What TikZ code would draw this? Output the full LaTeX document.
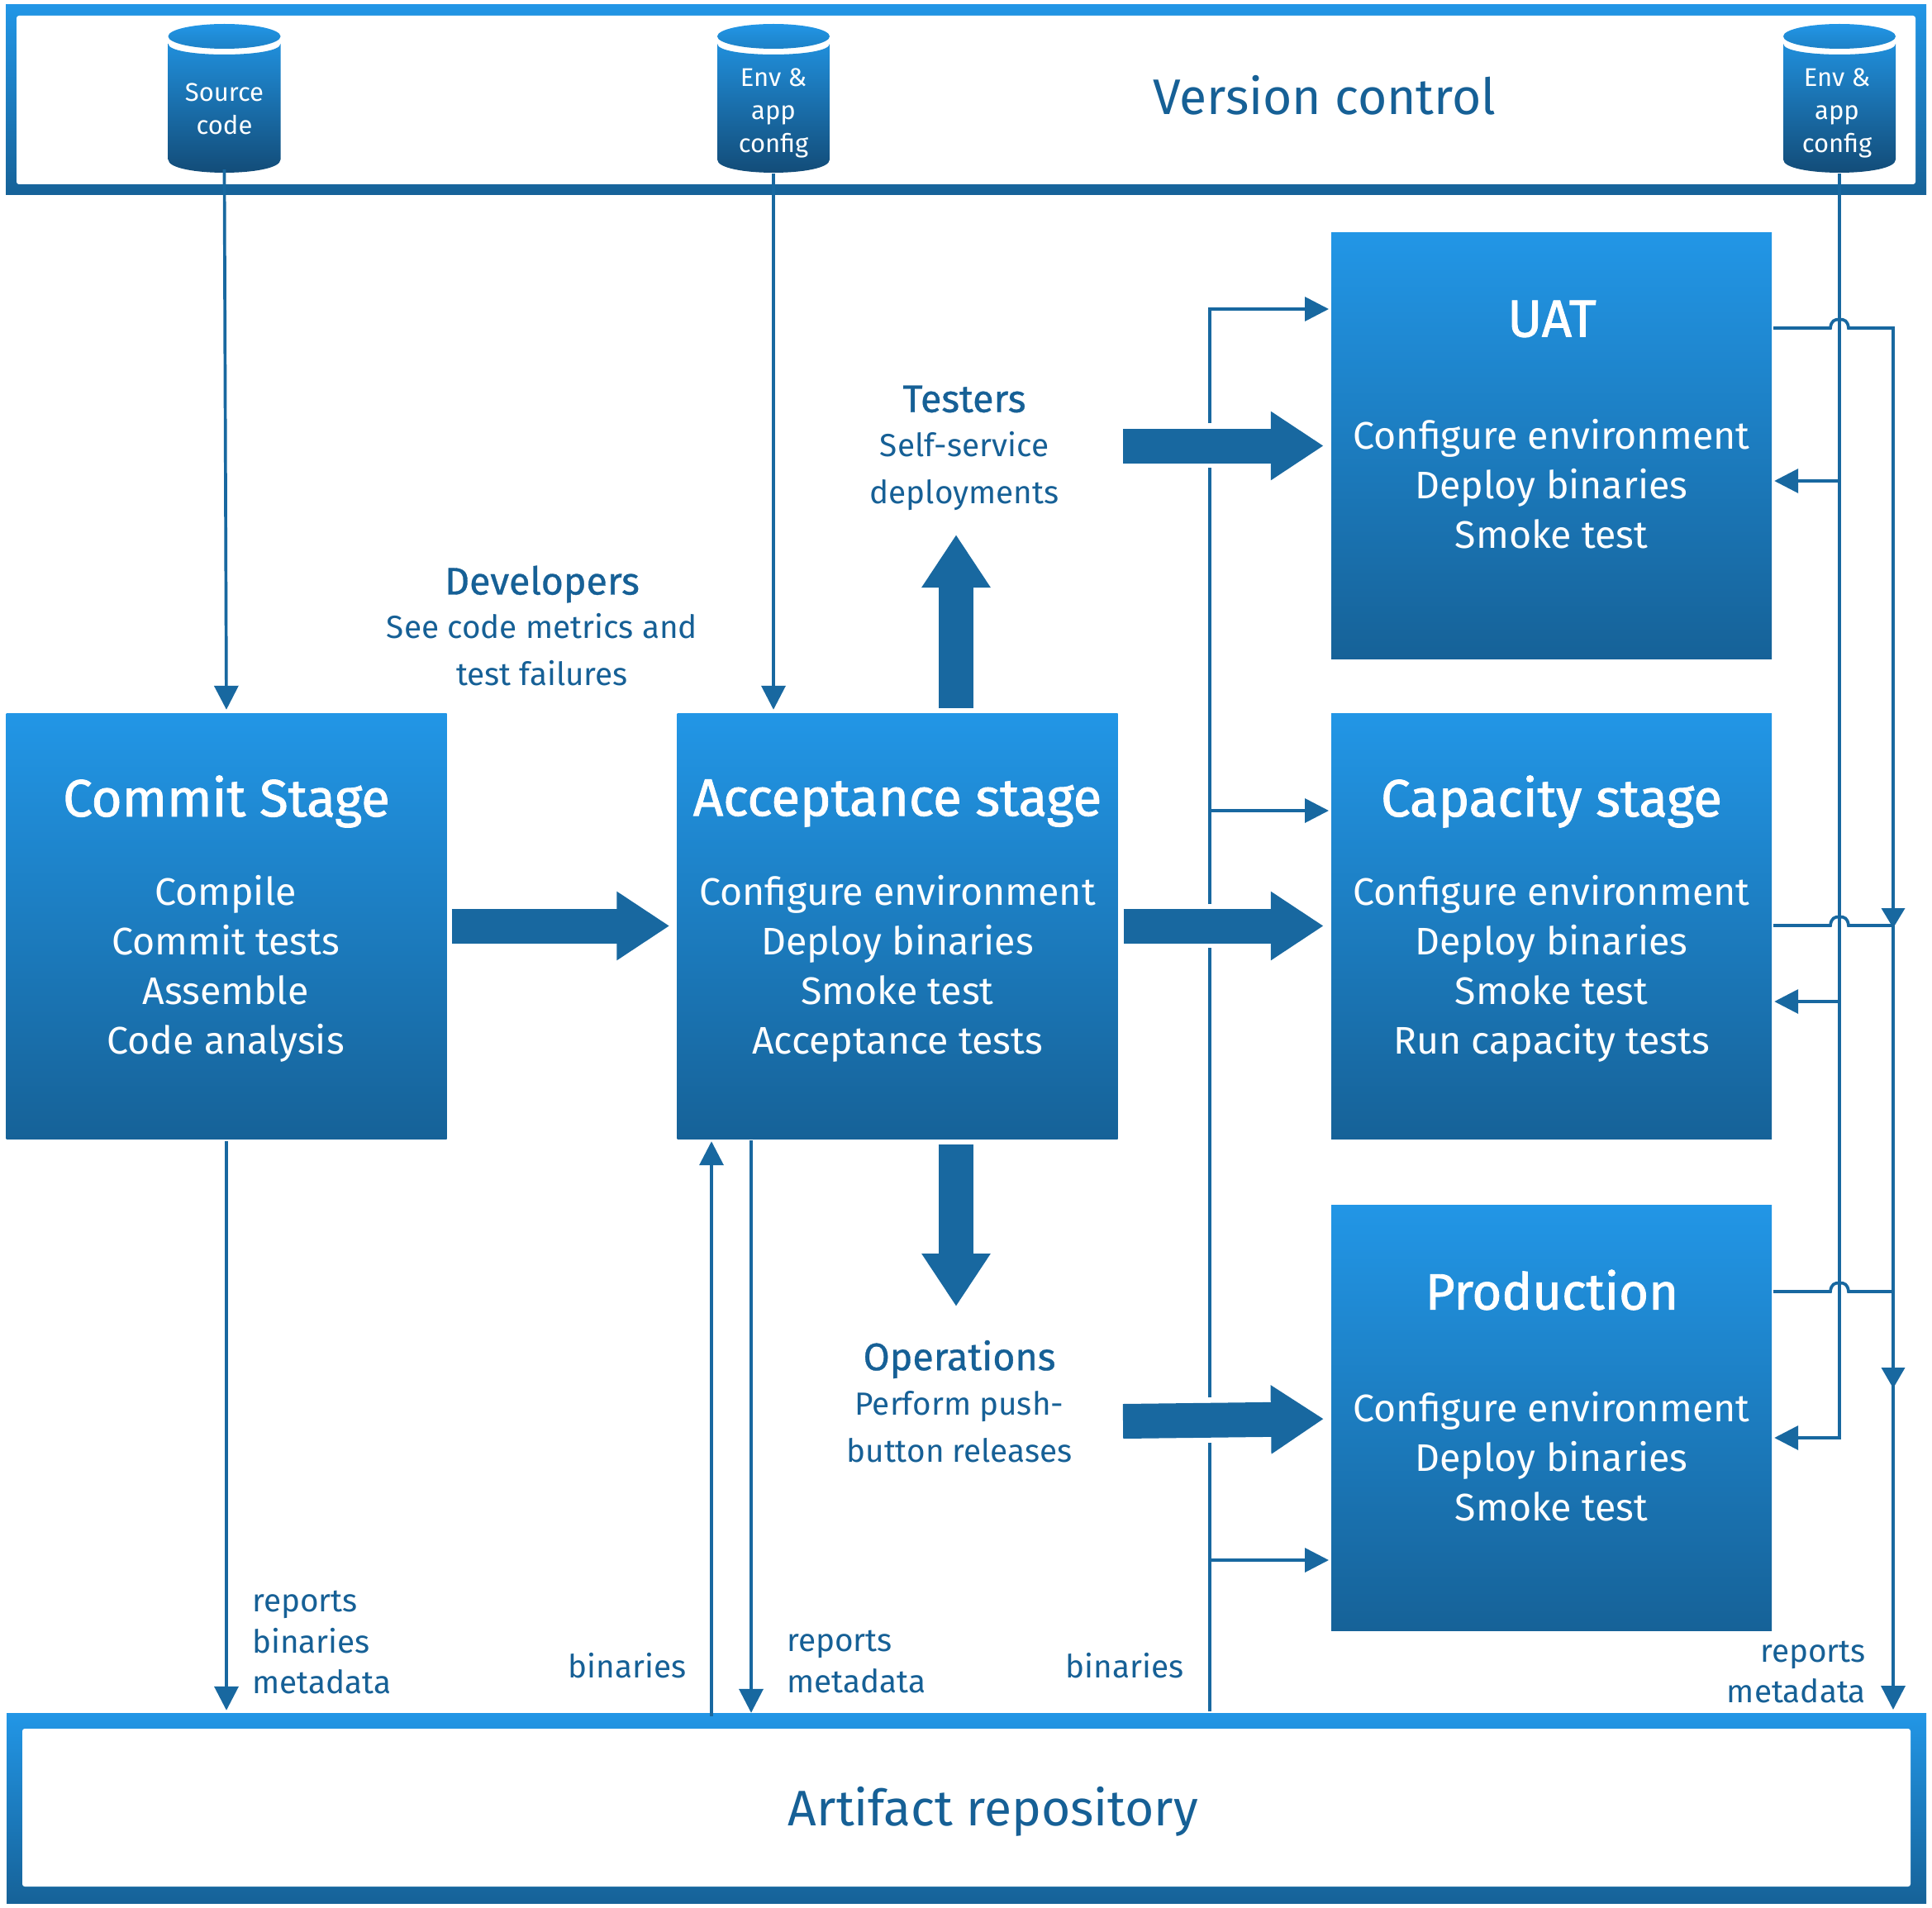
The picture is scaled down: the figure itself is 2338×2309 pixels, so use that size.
\documentclass[tikz,border=0pt]{standalone}
\usepackage{fontspec}
\usetikzlibrary{arrows.meta,calc}
\setmainfont{Fira Sans}
\newfontfamily\headfont[FakeBold=1.4]{Fira Sans}
\newfontfamily\rolefont[FakeBold=0.7]{Fira Sans}
\definecolor{topblue}{RGB}{34,150,230}
\definecolor{botblue}{RGB}{22,98,152}
\definecolor{cylbot}{RGB}{18,74,117}
\definecolor{lineblue}{RGB}{24,104,160}
\definecolor{textblue}{RGB}{22,96,150}
\tikzset{
  stagebox/.style={rectangle,draw=none,shade,top color=topblue,bottom color=botblue,minimum width=533pt,minimum height=515pt,inner sep=0pt},
  barouter/.style={rectangle,draw=none,shade,top color=topblue,bottom color=botblue,inner sep=0pt},
  barinner/.style={rectangle,rounded corners=3pt,fill=white,inner sep=0pt},
  stagetitle/.style={text=white,font=\headfont\fontsize{63.5}{70}\selectfont,inner sep=0pt},
  stagebody/.style={text=white,font=\fontsize{46.5}{60}\selectfont,align=center,inner sep=0pt},
  bartitle/.style={text=textblue,font=\fontsize{60.5}{72}\selectfont,inner sep=0pt},
  cyltext/.style={text=white,font=\fontsize{31}{40}\selectfont,align=center,inner sep=0pt,minimum width=136pt,minimum height=146pt},
  rolehead/.style={text=textblue,font=\rolefont\fontsize{46.5}{57}\selectfont,inner sep=0pt},
  rolebody/.style={text=textblue,font=\fontsize{38.7}{57}\selectfont,align=center,inner sep=0pt},
  edgelabel/.style={text=textblue,font=\fontsize{38.7}{49.5}\selectfont,inner sep=0pt},
  thin line/.style={draw=lineblue,line width=3.7pt},
  flow/.style={thin line,-{Triangle[length=29pt,width=29pt]}},
  bigarrow/.style={draw=lineblue,line width=42pt,-{Triangle[length=64pt,width=79pt]}},
}
\newcommand{\cylshape}[1]{%
  \shade[top color=topblue!85!botblue,bottom color=cylbot]
    (#1-68,53) .. controls (#1-68,70.3) and (#1+68,70.3) .. (#1+68,53)
    -- (#1+68,193) .. controls (#1+68,214.3) and (#1-68,214.3) .. (#1-68,193) -- cycle;
  \shade[top color=topblue,bottom color=topblue!60!botblue] (#1,44) ellipse [x radius=68, y radius=15];
}
\newcommand{\hopline}[1]{(2146,#1) -- (2215,#1) .. controls (2216,#1-9) and (2220,#1-10.5) .. (2226,#1-10.5) .. controls (2232,#1-10.5) and (2236,#1-9) .. (2237,#1)}
\begin{document}
\begin{tikzpicture}[x=1pt,y=-1pt]
\useasboundingbox (0,0) rectangle (2338,2309);
\fill[white] (0,0) rectangle (2338,2309);

% bars
\node[barouter,minimum width=2324pt,minimum height=230pt] (vc) at (1169,121) {};
\node[barinner,minimum width=2298pt,minimum height=204pt] (vcin) at (1169,121) {};
\node[bartitle] (vctext) at (1603,115) {Version control};
\node[barouter,minimum width=2323pt,minimum height=230pt] (art) at (1169.5,2188) {};
\node[barinner,minimum width=2285pt,minimum height=191pt] (artin) at (1169.5,2187.5) {};
\node[bartitle] (arttext) at (1202,2192) {Artifact repository};

% cylinders
\cylshape{271.5}
\node[cyltext] (src) at (271.5,132) {Source\\code};
\cylshape{936}
\node[cyltext] (envA) at (936,137) {Env \&\\app\\config};
\cylshape{2226}
\node[cyltext] (envB) at (2226,137) {};
\node[text=white,font=\fontsize{31}{40}\selectfont,align=center,inner sep=0pt] (envBt) at (2223,137) {Env \&\\app\\config};

% stages
\node[stagebox] (commit) at (274,1120.5) {};
\node[stagebox] (acc) at (1086,1120.5) {};
\node[stagebox] (uat) at (1877.5,539.5) {};
\node[stagebox] (cap) at (1877.5,1120.5) {};
\node[stagebox] (prod) at (1877.5,1715.5) {};

\node[stagetitle] (commitT) at (274,970) {Commit Stage};
\node[stagebody] (commitB) at (273,1172) {Compile\\Commit tests\\Assemble\\Code analysis};
\node[stagetitle] (accT) at (1086,972) {Acceptance stage};
\node[stagebody] (accB) at (1086,1172) {Configure environment\\Deploy binaries\\Smoke test\\Acceptance tests};
\node[stagetitle] (uatT) at (1878,386) {UAT};
\node[stagebody] (uatB) at (1877.5,586) {Configure environment\\Deploy binaries\\Smoke test};
\node[stagetitle] (capT) at (1877.5,970) {Capacity stage};
\node[stagebody] (capB) at (1877.5,1172) {Configure environment\\Deploy binaries\\Smoke test\\Run capacity tests};
\node[stagetitle,scale=0.97] (prodT) at (1878,1561) {Production};
\node[stagebody] (prodB) at (1877.5,1763) {Configure environment\\Deploy binaries\\Smoke test};

% role labels
\node[rolehead] (testH) at (1167,483) {Testers};
\node[rolebody] (testB) at (1167,570) {Self-service\\deployments};
\node[rolehead] (devH) at (656,707) {Developers};
\node[rolebody] (devB) at (656,786) {See code metrics and\\test failures};
\node[rolehead] (opsH) at (1161,1645) {Operations};
\node[rolebody] (opsB) at (1161,1727) {Perform push-\\button releases};

% edge labels
\node[edgelabel,anchor=west,align=left] (lblA) at (305,1988) {reports\\binaries\\metadata};
\node[edgelabel] (lblB) at (759,2016) {binaries};
\node[edgelabel,anchor=west,align=left] (lblC) at (952,2011) {reports\\metadata};
\node[edgelabel] (lblD) at (1361,2016) {binaries};
\node[edgelabel,anchor=east,align=right] (lblE) at (2258,2023.5) {reports\\metadata};

% free points for the big arrows and routes
\coordinate (testOut) at (1359,539.5);
\coordinate (opsOut) at (1359,1720);
\coordinate (upStart) at (1157,857);
\coordinate (upEnd) at (1157,647);
\coordinate (dnStart) at (1157,1385);
\coordinate (dnEnd) at (1157,1581);

% big arrows
\draw[bigarrow,shorten <=6pt,shorten >=9pt] (commit.east) -- (acc.west);
\draw[bigarrow,shorten <=7pt,shorten >=9pt] (acc.east) -- (cap.west);
\draw[bigarrow,shorten >=9pt] (testOut) -- (uat.west);
\draw[bigarrow,shorten >=9pt] (opsOut) -- (1611,1717);
\draw[bigarrow] (upStart) -- (upEnd);
\draw[bigarrow] (dnStart) -- (dnEnd);

% commit and acceptance connectors
\draw[flow,shorten >=4pt] (src.south) -- (commit.north);
\draw[flow,shorten >=4pt] (envA.south) -- (envA.south |- acc.north);
\draw[flow,shorten <=3pt,shorten >=3pt] (commit.south) -- (commit.south |- art.north);
\coordinate (upFoot) at (861,2077);
\coordinate (dnHead) at (909,1380);
\draw[flow,shorten >=3pt] (upFoot) -- (upFoot |- acc.south);
\draw[flow] (dnHead) -- (dnHead |- art.north);

% binaries trunk
\coordinate (trunk) at (1464,2071);
\draw[thin line] (trunk) -- (1464,1746);
\draw[thin line] (1464,1691) -- (1464,1147);
\draw[thin line] (1464,1094) -- (1464,566);
\draw[flow,shorten >=3pt] (1464,512) -- (1464,374) -- (1611,374);
\draw[flow,shorten >=3pt] (1464,981) -- (1611,981);
\draw[flow,shorten >=3pt] (1464,1888) -- (1611,1888);

% config trunk
\coordinate (envTurn) at (2226,1740);
\draw[flow,shorten >=3pt] (envB.south) -- (envTurn) -- (prod.east |- envTurn);
\draw[flow,shorten >=3pt] (2226,582) -- (uat.east |- 2226,582);
\draw[flow,shorten >=3pt] (2226,1212) -- (cap.east |- 2226,1212);

% reports trunk with hops
\coordinate (repDown) at (2291,397);
\coordinate (repEnd) at (2291,2073);
\draw[flow,shorten >=4pt] \hopline{397} -- (repDown) -- (repEnd);
\draw[thin line] \hopline{1120} -- (2291,1120);
\draw[thin line] \hopline{1563} -- (2291,1563);
\fill[lineblue] (2276.5,1099) -- (2305.5,1099) -- (2291,1123) -- cycle;
\fill[lineblue] (2276.5,1655) -- (2305.5,1655) -- (2291,1680) -- cycle;
\end{tikzpicture}
\end{document}
